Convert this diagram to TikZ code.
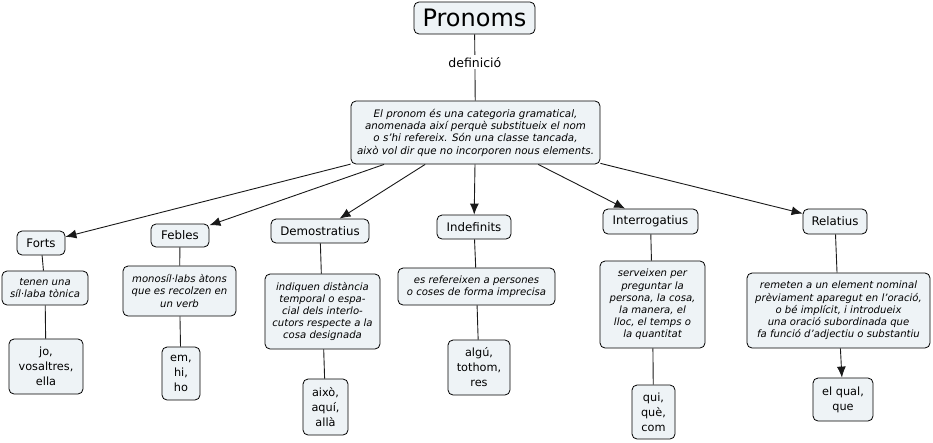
\documentclass[tikz,border=0pt]{standalone}
\usepackage{fontspec}
\setmainfont{DejaVu Sans}
\usetikzlibrary{arrows.meta}
\definecolor{boxfill}{HTML}{EEF3F6}
\begin{document}
\begin{tikzpicture}[x=1pt,y=-1pt,
  box/.style={draw=black, line width=0.8pt, rounded corners=5pt, fill=boxfill, align=center, inner sep=1pt},
  cat/.style={box, font=\fontsize{11.8}{13}\selectfont},
  desc/.style={box, font=\fontsize{10.1}{12.2}\selectfont\itshape},
  leaf/.style={box, font=\fontsize{11.3}{15}\selectfont},
  conn/.style={draw=black!90, line width=0.9pt},
  arr/.style={conn, -{Latex[length=11pt,width=9pt]}},
]
\useasboundingbox (0,0) rectangle (933,442);
% top
\node[box, font=\fontsize{24}{28}\selectfont, minimum width=121pt, minimum height=32pt] (pron) at (474.5,18) {Pronoms};
\node[desc, font=\fontsize{10.3}{12.3}\selectfont\itshape, minimum width=249pt, minimum height=63pt] (def) at (475.5,132.5) {El pronom és una categoria gramatical,\\anomenada així perquè substitueix el nom\\o s'hi refereix. Són una classe tancada,\\això vol dir que no incorporen nous elements.};
% categories
\node[cat, minimum width=48pt, minimum height=24pt] (forts) at (41,243) {Forts};
\node[cat, minimum width=58pt, minimum height=23pt] (febles) at (180,235.5) {Febles};
\node[cat, minimum width=98pt, minimum height=24pt] (demo) at (320,231) {Demostratius};
\node[cat, minimum width=74pt, minimum height=24pt] (indef) at (474,227) {Indefinits};
\node[cat, minimum width=95pt, minimum height=25pt] (interr) at (650.5,221.5) {Interrogatius};
\node[cat, minimum width=64pt, minimum height=25pt] (relat) at (835,221.5) {Relatius};
% descriptions
\node[desc, minimum width=86pt, minimum height=34pt] (dforts) at (45,288) {tenen una\\síl·laba tònica};
\node[desc, minimum width=113pt, minimum height=50pt] (dfebles) at (179.5,291) {monosíl·labs àtons\\que es recolzen en\\un verb};
\node[desc, minimum width=115pt, minimum height=75pt] (ddemo) at (322.5,311.5) {indiquen distància\\temporal o espa-\\cial dels interlo-\\cutors respecte a la\\cosa designada};
\node[desc, minimum width=157pt, minimum height=37pt] (dindef) at (476.5,286.5) {es refereixen a persones\\o coses de forma imprecisa};
\node[desc, minimum width=105pt, minimum height=87pt] (dinterr) at (652.5,304.5) {serveixen per\\preguntar la\\persona, la cosa,\\la manera, el\\lloc, el temps o\\la quantitat};
\node[desc, minimum width=183pt, minimum height=75pt] (drelat) at (838.5,310.5) {remeten a un element nominal\\prèviament aparegut en l'oració,\\o bé implícit, i introdueix\\una oració subordinada que\\fa funció d'adjectiu o substantiu};
% leaves
\node[leaf, minimum width=74pt, minimum height=55pt] (lforts) at (46,366.5) {jo,\\vosaltres,\\ella};
\node[leaf, minimum width=38pt, minimum height=53pt] (lfebles) at (181,373.5) {em,\\hi,\\ho};
\node[leaf, minimum width=45pt, minimum height=56pt] (ldemo) at (325.5,407) {això,\\aquí,\\allà};
\node[leaf, minimum width=62pt, minimum height=55pt] (lindef) at (479,367.5) {algú,\\tothom,\\res};
\node[leaf, minimum width=43pt, minimum height=54pt] (linterr) at (653.5,412) {qui,\\què,\\com};
\node[leaf, minimum width=60pt, minimum height=43pt] (lrelat) at (843,399.5) {el qual,\\que};
% connectors
\draw[conn] (pron) -- node[pos=0.42, fill=white, inner sep=2pt, font=\fontsize{12.5}{14}\selectfont] {definició} (def);
\foreach \c in {forts,febles,demo,indef,interr,relat}{
  \draw[arr] (def) -- (\c);
}
\draw[conn] (forts) -- (dforts);
\draw[conn] (febles) -- (dfebles);
\draw[conn] (demo) -- (ddemo);
\draw[conn] (indef) -- (dindef);
\draw[conn] (interr) -- (dinterr);
\draw[conn] (relat) -- (drelat);
\draw[conn] (dforts) -- (lforts);
\draw[conn] (dfebles) -- (lfebles);
\draw[conn] (ddemo) -- (ldemo);
\draw[conn] (dindef) -- (lindef);
\draw[conn] (dinterr) -- (linterr);
\draw[arr] (drelat) -- (lrelat);
\end{tikzpicture}
\end{document}
